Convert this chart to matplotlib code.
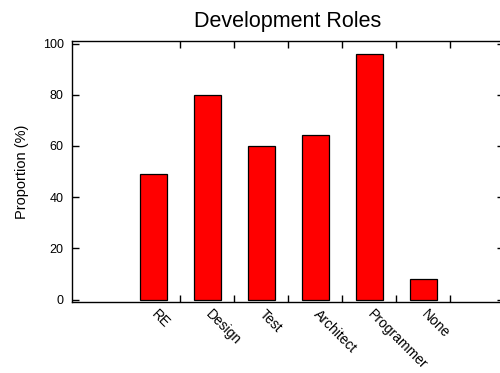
# bar chart of development roles
import matplotlib
matplotlib.use('Agg')
import matplotlib.pyplot as plt
import matplotlib.transforms as mtransforms
import numpy as np

plt.rcParams['font.family'] = ['Liberation Sans', 'DejaVu Sans']

# data
roles = ['RE', 'Design', 'Test', 'Architect', 'Programmer', 'None']
proportion = [49, 80, 60, 64.4, 96, 8]

fig = plt.figure(figsize=(5, 3.73), dpi=100)
ax = fig.add_axes([0.144, 0.19, 0.864, 0.70])

x = np.arange(1, len(roles) + 1)
ax.bar(x, proportion, width=0.5, color='#ff0000', edgecolor='black', linewidth=0.9)

ax.set_xlim(-0.5, 7.5)
ax.set_ylim(-1, 101)

# rotated labels under the bars, tick marks between bars
ax.set_xticks([])
ax.set_xticks(x + 0.5, minor=True)
ax.tick_params(axis='x', which='minor', direction='in', length=5, top=True, width=1)
offset = mtransforms.ScaledTranslation(6 / 100, -5 / 100, fig.dpi_scale_trans)
for xi, role in zip(x, roles):
    ax.text(xi, 0, role, transform=ax.get_xaxis_transform() + offset,
            rotation=-45, ha='left', va='top', rotation_mode='anchor', fontsize=10)

ax.set_yticks(np.arange(0, 101, 20))
ax.tick_params(axis='y', direction='in', length=5, right=True, labelsize=9, pad=6, width=1)

for s in ax.spines.values():
    s.set_linewidth(1)

ax.set_ylabel('Proportion (%)', fontsize=10.5, labelpad=10)
ax.set_title('Development Roles', fontsize=15.5, pad=10)

plt.savefig('out.png', dpi=100)
